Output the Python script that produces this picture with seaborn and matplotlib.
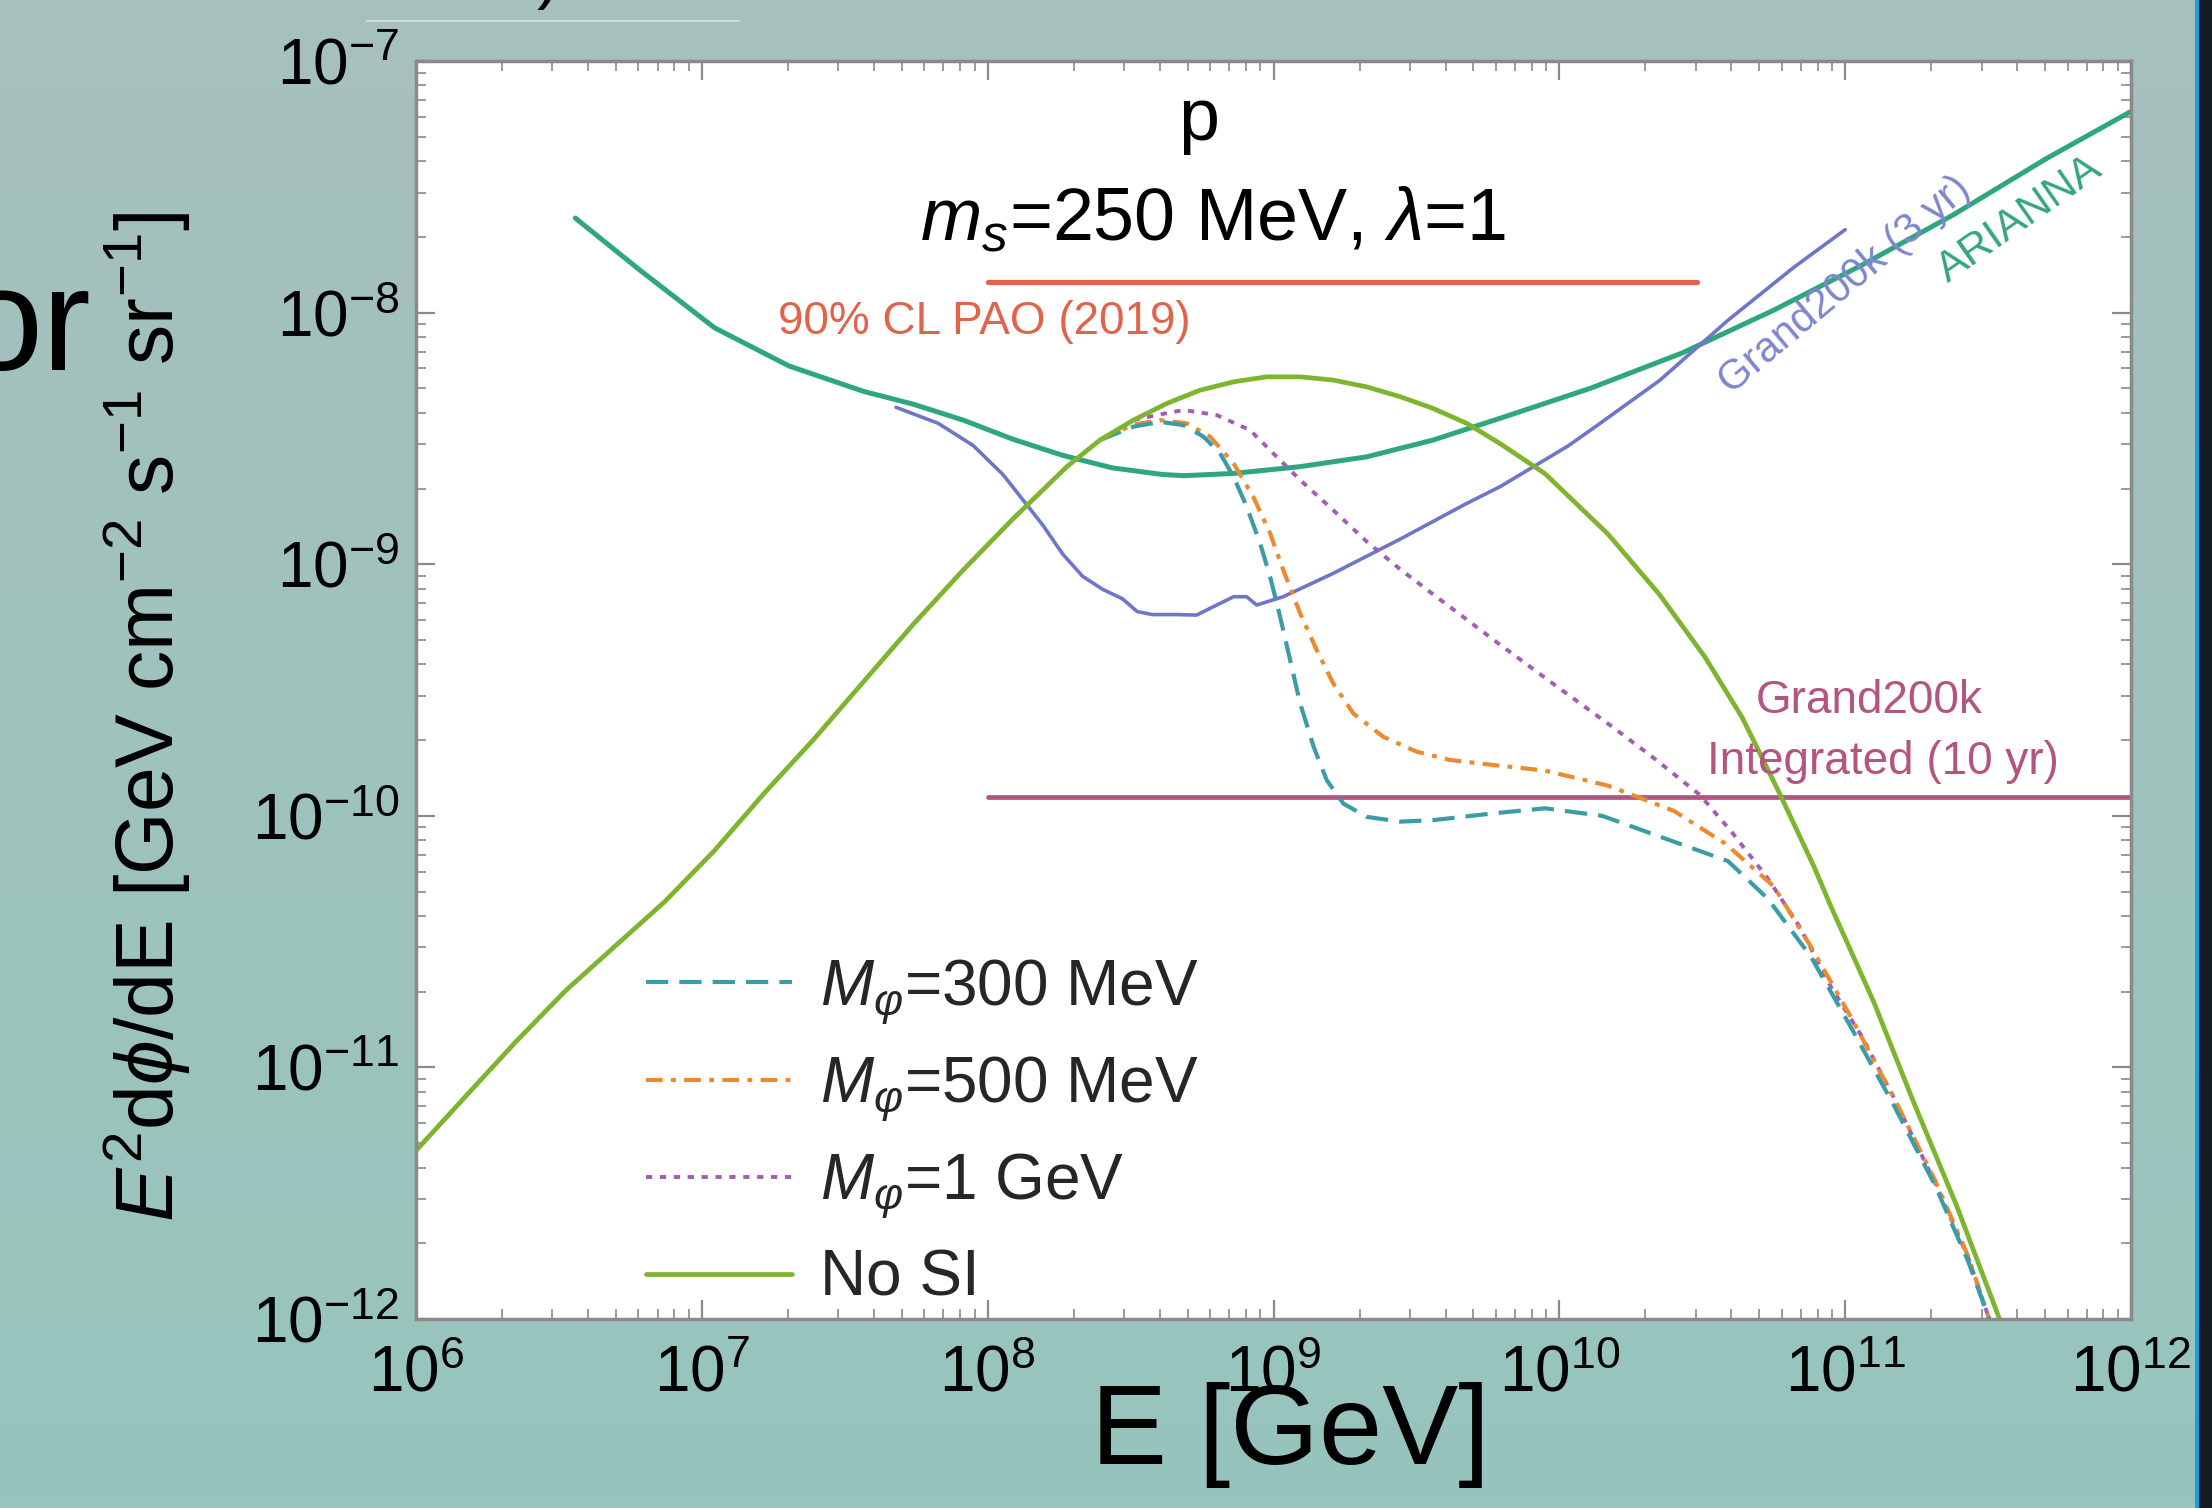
import numpy as np
import matplotlib
matplotlib.use("Agg")
import matplotlib.pyplot as plt
import seaborn as sns
from matplotlib.colors import LinearSegmentedColormap
from matplotlib.patches import Rectangle
from matplotlib.lines import Line2D
from matplotlib.ticker import FixedLocator, FuncFormatter, LogLocator, NullFormatter

# ---------------- data (log10 values) ----------------
nosi_logE = [6.0, 6.174, 6.348, 6.522, 6.696, 6.870, 7.044, 7.218, 7.392, 7.566, 7.740, 7.914,
             8.088, 8.277, 8.393, 8.510, 8.626, 8.743, 8.860, 8.976, 9.093, 9.209, 9.326,
             9.443, 9.559, 9.676, 9.792, 9.95, 10.17, 10.35, 10.51, 10.64, 10.77, 10.89, 10.95,
             11.10, 11.24, 11.39, 11.54]
nosi_logF = [-11.33, -11.114, -10.899, -10.696, -10.518, -10.341, -10.138, -9.910, -9.695,
             -9.466, -9.238, -9.023, -8.82, -8.612, -8.506, -8.427, -8.361, -8.308,
             -8.275, -8.255, -8.255, -8.268, -8.295, -8.334, -8.381, -8.440, -8.520, -8.64,
             -8.88, -9.12, -9.37, -9.61, -9.91, -10.20, -10.36, -10.74, -11.14, -11.55, -12.00]

arianna_logE = [6.557, 6.783, 7.044, 7.305, 7.566, 7.740, 7.914, 8.088, 8.262, 8.436, 8.610,
                8.685, 8.860, 9.093, 9.326, 9.559, 9.792, 10.11, 10.43, 10.75, 11.06, 11.38,
                11.70, 12.00]
arianna_logF = [-7.624, -7.831, -8.060, -8.212, -8.313, -8.364, -8.427, -8.503, -8.567, -8.617,
                -8.643, -8.648, -8.639, -8.612, -8.573, -8.506, -8.420, -8.30, -8.16, -7.99,
                -7.81, -7.61, -7.39, -7.20]

grand3_logE = [7.679, 7.827, 7.949, 8.053, 8.123, 8.193, 8.262, 8.332, 8.401, 8.471, 8.523,
               8.576, 8.662, 8.731, 8.766, 8.860, 8.906, 8.941, 9.034, 9.209, 9.443, 9.676,
               9.792, 10.03, 10.13, 10.35, 10.46, 10.59, 10.82, 11.00]
grand3_logF = [-8.376, -8.440, -8.528, -8.643, -8.744, -8.845, -8.959, -9.048, -9.099, -9.137,
               -9.188, -9.200, -9.200, -9.202, -9.182, -9.129, -9.129, -9.162, -9.129, -9.036,
               -8.90, -8.758, -8.692, -8.53, -8.45, -8.27, -8.16, -8.03, -7.82, -7.67]

m300_logE = [8.393, 8.510, 8.603, 8.685, 8.755, 8.813, 8.860, 8.906, 8.953, 8.988, 9.023, 9.058,
             9.093, 9.140, 9.186, 9.244, 9.326, 9.443, 9.559, 9.769, 9.95, 10.15, 10.37, 10.59,
             10.73, 10.88, 11.02, 11.17, 11.315, 11.43, 11.51]
m300_logF = [-8.506, -8.453, -8.434, -8.447, -8.493, -8.559, -8.652, -8.771, -8.917, -9.050,
             -9.209, -9.381, -9.553, -9.725, -9.858, -9.951, -10.004, -10.023, -10.017, -9.990,
             -9.97, -10.00, -10.09, -10.18, -10.33, -10.56, -10.84, -11.15, -11.47, -11.77,
             -12.02]

m500_logE = [8.393, 8.510, 8.603, 8.696, 8.778, 8.860, 8.929, 8.988, 9.034, 9.093, 9.151, 9.209,
             9.279, 9.384, 9.501, 9.618, 9.769, 9.95, 10.17, 10.40, 10.58, 10.75, 10.88, 11.02,
             11.17, 11.315, 11.43, 11.51]
m500_logF = [-8.506, -8.445, -8.427, -8.440, -8.493, -8.599, -8.732, -8.877, -9.023, -9.195,
             -9.341, -9.474, -9.593, -9.686, -9.745, -9.778, -9.798, -9.82, -9.88, -9.98,
             -10.11, -10.28, -10.52, -10.80, -11.12, -11.45, -11.75, -12.02]

m1g_logE = [8.510, 8.591, 8.685, 8.801, 8.918, 9.011, 9.093, 9.209, 9.326, 9.443, 9.559, 9.676,
            9.781, 9.96, 10.19, 10.33, 10.49, 10.60, 10.73, 10.84, 10.95, 11.06, 11.17, 11.315,
            11.43, 11.51]
m1g_logF = [-8.427, -8.407, -8.387, -8.407, -8.467, -8.573, -8.665, -8.785, -8.91, -9.02,
            -9.12, -9.22, -9.31, -9.46, -9.65, -9.77, -9.915, -10.06, -10.25, -10.44,
            -10.68, -10.88, -11.12, -11.46, -11.755, -12.02]

pao_E = [1e8, 3.04e10]
pao_F = [1.32e-8, 1.32e-8]
grandint_E = [1e8, 1e12]
grandint_F = [1.19e-10, 1.19e-10]

legend_labels = [r"$M_\varphi$=300 MeV", r"$M_\varphi$=500 MeV", r"$M_\varphi$=1 GeV", "No SI"]
xtick_exp = [6, 7, 8, 9, 10, 11, 12]
ytick_exp = [-12, -11, -10, -9, -8, -7]

# ---------------- style ----------------
sns.set_theme(style="white")
plt.rcParams["font.family"] = ["Liberation Sans", "DejaVu Sans"]
plt.rcParams["mathtext.fontset"] = "custom"
plt.rcParams["mathtext.rm"] = "Liberation Sans"
plt.rcParams["mathtext.it"] = "Liberation Sans:italic"
plt.rcParams["mathtext.bf"] = "Liberation Sans:bold"
plt.rcParams["lines.scale_dashes"] = False

C_ARI = "#2ea67e"
C_G3 = "#6e76c9"
C_NOSI = "#7db52e"
C_300 = "#3b9ca6"
C_500 = "#ec8a2f"
C_1G = "#a45cb8"
C_PAO = "#e0644a"
C_GINT = "#b4557f"

fig = plt.figure(figsize=(22.12, 15.08), dpi=100)

# background
bg = fig.add_axes([0, 0, 1, 1], zorder=-10)
grad = np.linspace(0, 1, 256)[:, None]
bg.imshow(grad, aspect="auto", extent=[0, 1, 0, 1],
          cmap=LinearSegmentedColormap.from_list("bg", ["#a7c0bd", "#96c5bc"]))
bg.set_axis_off()

ax = fig.add_axes([0.1881, 0.1253, 0.7753, 0.8342])
ax.set_facecolor("white")
ax.set_xscale("log")
ax.set_yscale("log")
ax.set_xlim(1e6, 1e12)
ax.set_ylim(1e-12, 1e-7)


def draw(xv, yv, **kw):
    sns.lineplot(x=np.asarray(xv, float), y=np.asarray(yv, float), ax=ax, sort=False,
                 estimator=None, legend=False, **kw)
    line = ax.lines[-1]
    line.set_solid_joinstyle("round")
    line.set_dash_joinstyle("round")
    return line


def draw_log(lx, ly, **kw):
    return draw(10.0 ** np.asarray(lx), 10.0 ** np.asarray(ly), **kw)


draw(grandint_E, grandint_F, color=C_GINT, linewidth=3.4)
draw(pao_E, pao_F, color=C_PAO, linewidth=3.8)
draw_log(arianna_logE, arianna_logF, color=C_ARI, linewidth=3.6)
draw_log(grand3_logE, grand3_logF, color=C_G3, linewidth=2.6)

l1g = draw_log(m1g_logE, m1g_logF, color=C_1G, linewidth=2.8)
l1g.set_dashes([4.5, 5.5])
l500 = draw_log(m500_logE, m500_logF, color=C_500, linewidth=3.0)
l500.set_dashes([12, 6, 3.5, 6])
l300 = draw_log(m300_logE, m300_logF, color=C_300, linewidth=3.0)
l300.set_dashes([16, 8])
lnosi = draw_log(nosi_logE, nosi_logF, color=C_NOSI, linewidth=3.4)

# ticks
ax.xaxis.set_major_locator(FixedLocator([10.0 ** e for e in xtick_exp]))
ax.yaxis.set_major_locator(FixedLocator([10.0 ** e for e in ytick_exp]))
ax.xaxis.set_major_formatter(FuncFormatter(lambda v, p: r"$10^{%d}$" % round(np.log10(v))))
ax.yaxis.set_major_formatter(FuncFormatter(lambda v, p: r"$10^{%d}$" % round(np.log10(v))))
ax.xaxis.set_minor_locator(LogLocator(base=10, subs=np.arange(2, 10), numticks=100))
ax.yaxis.set_minor_locator(LogLocator(base=10, subs=np.arange(2, 10), numticks=100))
ax.xaxis.set_minor_formatter(NullFormatter())
ax.yaxis.set_minor_formatter(NullFormatter())
ax.tick_params(which="both", direction="in", top=True, right=True, bottom=True, left=True,
               color="#8a8a8a")
ax.tick_params(which="major", length=14, width=1.6, labelsize=46, labelcolor="black")
ax.tick_params(axis="x", which="major", pad=18)
ax.tick_params(axis="y", which="major", pad=12)
ax.tick_params(which="minor", length=7, width=1.2)
for s in ax.spines.values():
    s.set_color("#8a8a8a")
    s.set_linewidth(2.5)

ax.set_xlabel("E [GeV]", fontsize=82, color="black")
ax.xaxis.label.set_va("center")
ax.xaxis.set_label_coords(0.51, -0.092)
ax.set_ylabel(r"$E^2$d$\phi$/dE [GeV cm$^{-2}$ s$^{-1}$ sr$^{-1}$]", fontsize=58, color="black")
ax.yaxis.label.set_va("center")
ax.yaxis.set_label_coords(-0.157, 0.4785)

# titles inside
ax.text(0.4566, 0.953, "p", transform=ax.transAxes, ha="center", va="center",
        fontsize=53, color="black")
ax.text(0.4647, 0.874, r"$m_s$=250 MeV, $\lambda$=1", transform=ax.transAxes, ha="center",
        va="center", fontsize=53, color="black")

# annotations
ax.text(10 ** 7.989, 10 ** -8.036, "90% CL PAO (2019)", ha="center", va="center",
        fontsize=33, color=C_PAO)
ax.text(10 ** 11.084, 10 ** -9.544, "Grand200k", ha="center", va="center",
        fontsize=33, color=C_GINT)
ax.text(10 ** 11.133, 10 ** -9.785, "Integrated (10 yr)", ha="center", va="center",
        fontsize=33, color=C_GINT)
ax.text(10 ** 11.0, 10 ** -7.89, "Grand200k (3 yr)", ha="center", va="center",
        fontsize=30, color="#7e86cf", rotation=40, rotation_mode="anchor")
ax.text(10 ** 11.612, 10 ** -7.627, "ARIANNA", ha="center", va="center",
        fontsize=31, color="#33a57d", rotation=35, rotation_mode="anchor")

# legend
leg = ax.legend([l300, l500, l1g, lnosi], legend_labels, loc="lower left",
                bbox_to_anchor=(0.134, 0.008), frameon=False, fontsize=46,
                handlelength=2.28, handletextpad=0.45, labelspacing=0.45,
                borderaxespad=0, borderpad=0)

# slide decorations
fig.text(92 / 2212, 1 - 370 / 1508, "or", fontsize=105, ha="right", va="baseline",
         color="black")
fig.text(548 / 2212, 1 + 4 / 1508, ")", fontsize=50, ha="center", va="baseline",
         color="black")
fig.add_artist(Line2D([367 / 2212, 739 / 2212], [1 - 20.7 / 1508] * 2, color="white",
                      alpha=0.45, lw=1.5, transform=fig.transFigure))
fig.add_artist(Rectangle((2195 / 2212, 0), 4 / 2212, 1, transform=fig.transFigure,
                         color="#1a9ee0", lw=0))
fig.add_artist(Rectangle((2199 / 2212, 0), 13 / 2212, 1, transform=fig.transFigure,
                         color="#141a24", lw=0))

fig.savefig("out.png", dpi=100)
